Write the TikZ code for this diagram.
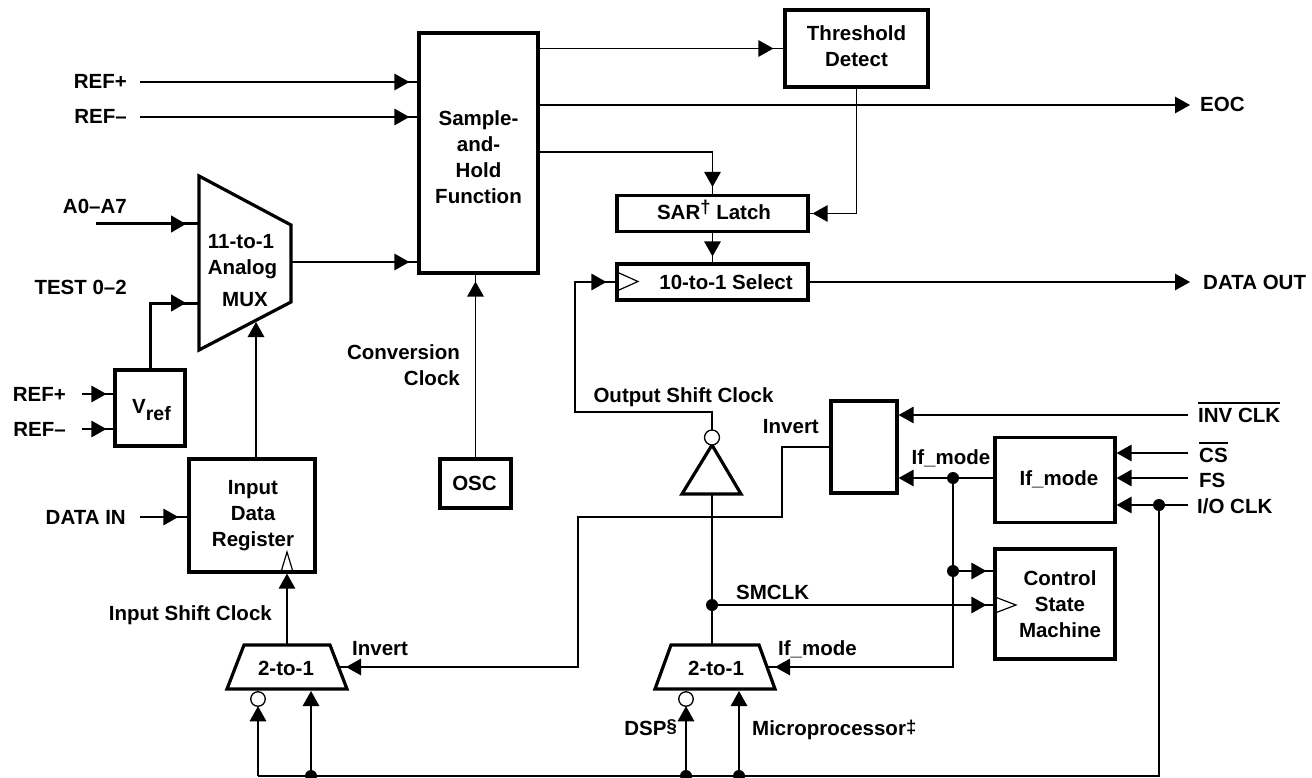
\documentclass[tikz,border=0pt]{standalone}
\usepackage{fontspec}
\setmainfont{Liberation Sans}
\usetikzlibrary{arrows.meta,decorations.markings}
\newcommand\ovl[1]{\vbox{\hrule height 1.8pt\kern 4pt\hbox{#1}}}
\newcommand\supmark[2]{\raisebox{#1}{\fontsize{18.5}{18.5}\selectfont #2}}
\begin{document}
\begin{tikzpicture}[x=1pt,y=-1pt,
  >={Triangle[length=15pt,width=16.5pt]},
  wire/.style={line width=1.4pt},
  busw/.style={line width=3pt},
  blk/.style={draw,line width=3.2pt,inner sep=0pt},
  arr/.style={postaction={decorate,decoration={markings,mark=at position -#1 with {\arrow{>}}}}},
  arr/.default=8pt,
  lbl/.style={inner sep=0pt,font=\fontsize{20.5}{26}\selectfont\bfseries},
  dot/.style={circle,fill,inner sep=0pt,minimum size=12pt},
  bub/.style={circle,draw,line width=1.3pt,fill=white,inner sep=0pt,outer sep=0pt,minimum size=14.5pt},
  clk/.style={line width=1.2pt},
]
\fill[white] (0,0) rectangle (1312,778);
\useasboundingbox (0,0) rectangle (1312,778);

% ---------------- boxes ----------------
\node[blk,minimum width=119pt,minimum height=240pt] (sh) at (478.5,153) {};
\node[lbl,align=center] at (478.5,157.5) {Sample-\\and-\\Hold\\Function};
\node[blk,minimum width=143pt,minimum height=77pt] (thr) at (856.5,48.5) {};
\node[lbl,align=center] at (856.5,46) {Threshold\\Detect};
\node[blk,minimum width=191pt,minimum height=36pt] (sar) at (712.5,213.5) {};
\node[lbl,anchor=base] at (714,220) {SAR\supmark{6pt}{†} Latch};
\node[blk,minimum width=191pt,minimum height=36pt] (sel) at (712.5,282) {};
\node[lbl] at (726,282) {10-to-1 Select};
\draw[clk] (619,273) -- (638,281.5) -- (619,290);
\node[blk,minimum width=70pt,minimum height=76pt] (vref) at (150,408) {};
\node[lbl,anchor=base west] at (132,413) {V\raisebox{-7pt}{\fontsize{19.5}{19.5}\selectfont ref}};
\node[blk,minimum width=126pt,minimum height=113pt] (idr) at (252,515.5) {};
\node[lbl,align=center] at (253,515.7) {Input\\Data\\Register};
\draw[clk] (281,572) -- (287,552) -- (293,572);
\node[blk,minimum width=71pt,minimum height=49pt] (osc) at (475.5,483.5) {};
\node[lbl] at (474.5,483) {OSC};
\node[blk,minimum width=66pt,minimum height=92pt] (inv) at (864,447) {};
\node[blk,minimum width=120pt,minimum height=85pt] (ifm) at (1055,480) {};
\node[lbl,anchor=base] at (1059,485) {If\_mode};
\node[blk,minimum width=120pt,minimum height=110pt] (csm) at (1055,604) {};
\node[lbl,align=center] at (1060,604.5) {Control\\State\\Machine};
\draw[clk] (995,597) -- (1016,605) -- (995,613);

% ---------------- muxes and buffer ----------------
\draw[blk] (199,176) -- (291,225) -- (291,302) -- (199,350) -- cycle;
\node[lbl,anchor=base] at (241,248) {11-to-1};
\node[lbl,anchor=base] at (242.5,274) {Analog};
\node[lbl,anchor=base] at (245,306) {MUX};
\draw[blk] (244,645) -- (330,645) -- (347,689) -- (227,689) -- cycle;
\node[lbl,anchor=base] at (286,675) {2-to-1};
\draw[blk] (671,645) -- (759,645) -- (775,689) -- (655,689) -- cycle;
\node[lbl,anchor=base] at (716,675) {2-to-1};
\draw[blk] (682,494) -- (712,445) -- (741,494) -- cycle;
\node[bub,minimum size=15pt] (ibub) at (712,437.5) {};
\node[bub] (bubL) at (258,699) {};
\node[bub] (bubR) at (686,699) {};

% ---------------- coordinates ----------------
\coordinate (refpA) at (140,82);
\coordinate (refmA) at (140,117);
\coordinate (a0) at (96,224);
\coordinate (muxL1) at (199,224);
\coordinate (muxL2) at (199,303);
\coordinate (muxO) at (291,262);
\coordinate (muxB) at (256,322);
\coordinate (shO3) at (538,152);
\coordinate (eocE) at (1190,105);
\coordinate (doE) at (1190,282);
\coordinate (osk) at (575,412);
\coordinate (vrp) at (82,394);
\coordinate (vrm) at (82,429);
\coordinate (din) at (140,517);
\coordinate (lmT) at (287,645);
\coordinate (lmR) at (339,667);
\coordinate (iv1) at (782,517);
\coordinate (iv2) at (578,667);
\coordinate (invc) at (1188,415);
\coordinate (csin) at (1188,453);
\coordinate (fsin) at (1188,478);
\coordinate (ioin) at (1188,505);
\coordinate (ifo) at (953,478);
\coordinate (ifd) at (953,571);
\coordinate (rmR) at (767,667);
\coordinate (itB) at (712,494);
\coordinate (rmT) at (712,645);
\coordinate (smc) at (712,605);
\coordinate (busL) at (258,776);
\coordinate (bd1) at (311,776);
\coordinate (lmB2) at (311,691);
\coordinate (bd2) at (686,776);
\coordinate (bd3) at (739,776);
\coordinate (rmB2) at (739,691);
\coordinate (busR) at (1159,776);
\coordinate (ioD) at (1159,505);

% ---------------- labels ----------------
\node[lbl,anchor=base east] at (127,89) {REF+};
\node[lbl,anchor=base east] at (127,124) {REF–};
\node[lbl,anchor=base east] at (127,214) {A0–A7};
\node[lbl,anchor=base east] at (127,294) {TEST 0–2};
\node[lbl,align=right,anchor=east] at (460,365.5) {Conversion\\Clock};
\node[lbl,anchor=base west] at (1200,112) {EOC};
\node[lbl,anchor=base west] at (1203,289) {DATA OUT};
\node[lbl,anchor=base] at (683.5,402) {Output Shift Clock};
\node[lbl,anchor=base east] at (66,401) {REF+};
\node[lbl,anchor=base east] at (66,436) {REF–};
\node[lbl,anchor=base east] at (126,524) {DATA IN};
\node[lbl,anchor=base east] at (272,620) {Input Shift Clock};
\node[lbl,anchor=base west] at (352,655) {Invert};
\node[lbl,anchor=base east] at (819,433) {Invert};
\node[lbl,anchor=base west] at (1198,422) {\ovl{INV CLK}};
\node[lbl,anchor=base west] at (1199,462) {\ovl{CS}};
\node[lbl,anchor=base west] at (1199,487) {FS};
\node[lbl,anchor=base west] at (1197,513) {I/O CLK};
\node[lbl,anchor=base] at (951,464) {If\_mode};
\node[lbl,anchor=base west] at (778,655) {If\_mode};
\node[lbl,anchor=base west] at (736,599) {SMCLK};
\node[lbl,anchor=base east] at (677,735) {DSP\supmark{3pt}{§}};
\node[lbl,anchor=base west] at (752,735) {Microprocessor\supmark{2pt}{‡}};

% ---------------- connectors ----------------
\draw[wire,arr] (refpA) -- (sh.west |- refpA);
\draw[wire,arr] (refmA) -- (sh.west |- refmA);
\draw[busw,arr=13pt] (a0) -- (muxL1);
\draw[busw,arr=13pt] (vref.north) |- (muxL2);
\draw[wire,arr] (muxO) -- (sh.west |- muxO);
\draw[wire,->] (idr.north -| muxB) -- (muxB);
\draw[wire,arr=7pt] (osc.north) -- (sh.south -| osc.north);
\draw[wire,arr=10pt] (sh.east |- thr.west) -- (thr.west);
\draw[wire,->] (sh.east |- eocE) -- (eocE);
\draw[wire,arr=7pt] (shO3) -| (sar.north);
\draw[wire,arr=3pt] (thr.south) |- (sar.east);
\draw[wire,arr=6pt] (sar.south) -- (sel.north);
\draw[wire,->] (sel.east) -- (doE);
\draw[wire,arr=9pt] (ibub.north) |- (osk) |- (sel.west);
\draw[wire,arr=7pt] (vrp) -- (vref.west |- vrp);
\draw[wire,arr=7pt] (vrm) -- (vref.west |- vrm);
\draw[wire,arr=9pt] (din) -- (idr.west |- din);
\draw[wire,->] (lmT) -- (idr.south -| lmT);
\draw[wire,arr=7pt] (inv.west) -| (iv1) -| (iv2) -- (lmR);
\draw[wire,->] (invc) -- (inv.east |- invc);
\draw[wire,->] (csin) -- (ifm.east |- csin);
\draw[wire,->] (fsin) -- (ifm.east |- fsin);
\draw[wire,->] (ioin) -- (ifm.east |- ioin);
\draw[wire,->] (ifm.west |- ifo) -- (inv.east |- ifo);
\draw[wire,arr=8pt] (ifo) |- (rmR);
\draw[wire,arr=7pt] (ifd) -- (csm.west |- ifd);
\draw[wire] (itB) -- (rmT);
\draw[wire,arr=7pt] (smc) -- (csm.west |- smc);
\draw[wire] (busL) -- (busR) -- (ioD);
\draw[wire,->] (busL) -- (bubL.south);
\draw[wire,->] (bd1) -- (lmB2);
\draw[wire,->] (bd2) -- (bubR.south);
\draw[wire,->] (bd3) -- (rmB2);

% ---------------- junction dots ----------------
\foreach \p in {ifo,ifd,smc,bd1,bd2,bd3,ioD}
  \node[dot] at (\p) {};
\end{tikzpicture}
\end{document}
